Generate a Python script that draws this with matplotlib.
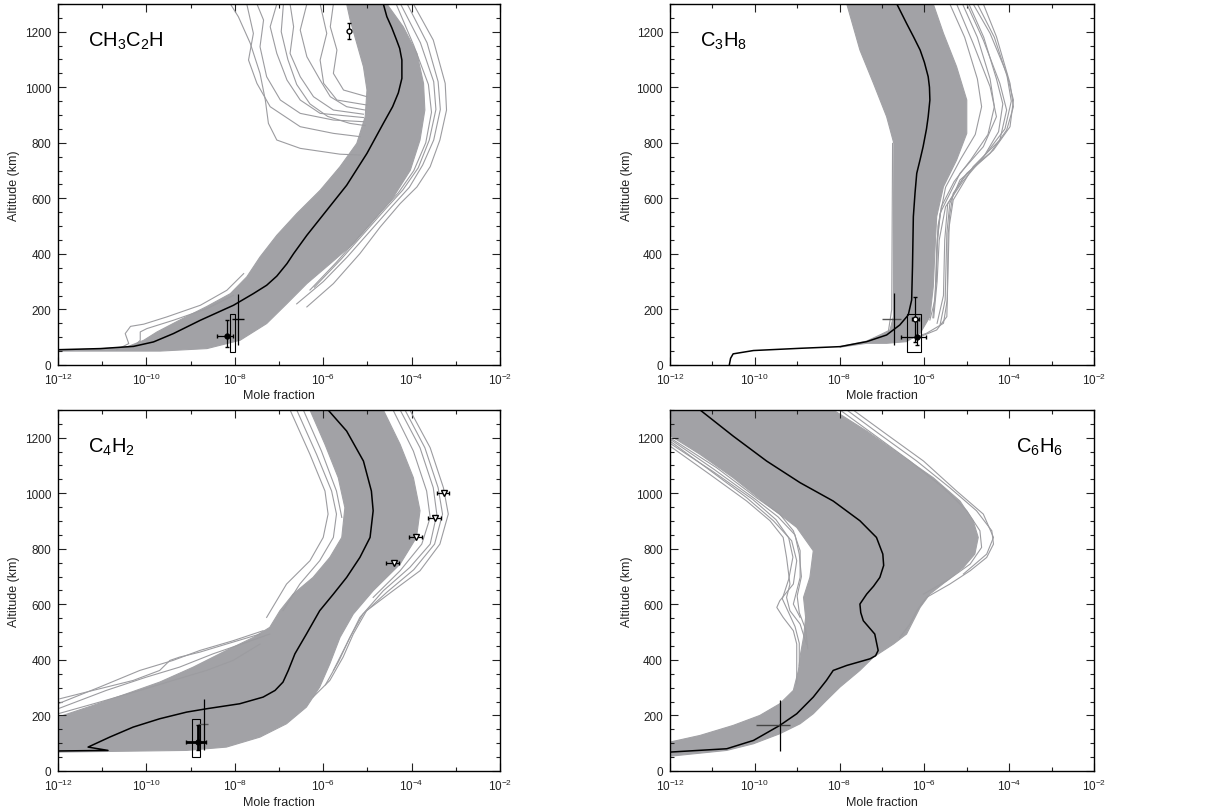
import numpy as np
import matplotlib
matplotlib.use("Agg")
import matplotlib.pyplot as plt
from matplotlib import ticker
from matplotlib.patches import Rectangle

plt.rcParams['font.family'] = ['Liberation Sans', 'DejaVu Sans']
plt.rcParams['mathtext.fontset'] = 'custom'
plt.rcParams['mathtext.rm'] = 'Liberation Sans'
plt.rcParams['mathtext.it'] = 'Liberation Sans:italic'
plt.rcParams['mathtext.default'] = 'regular'

# values are log10(mole fraction) and altitude (km)

# ---- CH3C2H ----
ch3c2h_med_lx = [-12.00, -11.04, -10.29, -9.84, -9.39, -8.78, -8.03, -7.58, -7.28, -7.05, -6.82,
                 -6.67, -6.37, -5.92, -5.47, -5.01, -4.64, -4.43, -4.30, -4.22, -4.22, -4.27,
                 -4.34, -4.45, -4.56, -4.64]
ch3c2h_med_alt = [55, 59, 67, 83, 113, 161, 215, 257, 287, 320, 365,
                  401, 467, 557, 647, 762, 870, 930, 980, 1032, 1098, 1140,
                  1170, 1215, 1254, 1300]
ch3c2h_band_lx = [-12.00, -11.04, -10.44, -10.06, -9.76, -9.23, -8.63, -8.10, -7.73, -7.43, -7.05,
                  -6.60, -6.07, -5.62, -5.24, -5.05, -5.01, -5.09, -5.24, -5.39, -5.47,
                  -4.56, -4.19, -3.88, -3.73, -3.70, -3.81, -4.03, -4.41, -4.86, -5.32, -5.84,
                  -6.37, -6.82, -7.28, -7.88, -8.63, -9.69, -12.00]
ch3c2h_band_alt = [53, 58, 65, 89, 119, 163, 211, 257, 317, 389, 467,
                   545, 629, 714, 798, 894, 990, 1074, 1158, 1242, 1300,
                   1300, 1218, 1122, 1014, 918, 810, 701, 605, 521, 437, 365,
                   293, 221, 149, 89, 59, 50, 50]
ch3c2h_lines = [
    ([-3.96, -3.51, -3.24, -3.21, -3.36, -3.58, -3.88, -4.26, -4.71, -5.17, -5.77, -6.37],
     [1300, 1170, 1014, 918, 810, 714, 641, 581, 497, 401, 293, 209]),
    ([-4.10, -3.65, -3.40, -3.35, -3.50, -3.75, -4.05, -4.45, -4.95, -5.45, -6.00, -6.60],
     [1300, 1160, 1020, 920, 810, 720, 640, 570, 480, 390, 300, 220]),
    ([-4.25, -3.80, -3.50, -3.45, -3.60, -3.85, -4.20, -4.60, -5.10, -5.60, -6.20],
     [1300, 1160, 1020, 920, 810, 710, 630, 560, 470, 380, 280]),
    ([-4.35, -3.95, -3.62, -3.55, -3.68, -3.95, -4.30, -4.70, -5.20, -5.70, -6.30],
     [1300, 1150, 1010, 910, 800, 700, 620, 550, 460, 370, 270]),
    ([-8.10, -7.92, -7.65, -7.43, -7.31, -7.24, -7.05, -6.52, -5.62, -5.16],
     [1300, 1254, 1158, 1050, 954, 870, 810, 780, 759, 756]),
    ([-7.50, -7.35, -7.43, -7.28, -6.97, -6.52, -5.77, -5.09],
     [1300, 1242, 1146, 1038, 954, 906, 882, 876]),
    ([-7.05, -7.20, -7.05, -6.82, -6.52, -6.07, -5.09],
     [1300, 1218, 1122, 1026, 954, 906, 891]),
    ([-6.75, -6.67, -6.75, -6.52, -6.22, -5.77, -5.09],
     [1300, 1218, 1122, 1038, 966, 918, 903]),
    ([-6.37, -6.52, -6.37, -6.07, -5.84, -5.47, -5.05],
     [1300, 1206, 1110, 1026, 966, 930, 918]),
    ([-6.07, -5.92, -6.07, -5.99, -5.69, -5.01],
     [1300, 1194, 1098, 1014, 954, 936]),
    ([-5.77, -5.84, -5.69, -5.77, -5.54, -5.01],
     [1300, 1218, 1134, 1050, 990, 966]),
    ([-7.73, -7.58, -7.69, -7.50, -7.20, -6.52, -5.77, -5.16],
     [1300, 1194, 1098, 1014, 930, 858, 834, 822]),
    ([-6.90, -6.95, -6.80, -6.60, -6.30, -5.90, -5.40, -5.05],
     [1300, 1200, 1100, 1010, 940, 895, 870, 862]),
    ([-10.67, -10.40, -10.48, -10.36, -10.06, -9.54, -8.78, -8.18, -7.80],
     [55, 77, 113, 139, 147, 173, 215, 269, 329]),
    ([-10.29, -10.14, -10.14, -9.99, -9.39, -8.63, -8.03],
     [65, 89, 119, 131, 161, 203, 251]),
]

# ---- C3H8 ----
c3h8_med_lx = [-10.60, -10.57, -10.51, -10.03, -8.93, -7.99, -7.36, -6.89, -6.58, -6.38, -6.30,
               -6.28, -6.26, -6.22, -6.18, -6.10, -6.03, -5.95, -5.91, -5.87, -5.88, -5.91,
               -6.00, -6.10, -6.25, -6.42, -6.65]
c3h8_med_alt = [0, 24, 40, 52, 60, 66, 84, 108, 144, 180, 234,
                354, 534, 620, 690, 740, 786, 850, 894, 954, 1000, 1038,
                1090, 1134, 1180, 1230, 1300]
c3h8_band_lx = [-7.99, -7.36, -7.05, -6.81, -6.73, -6.73, -6.73, -6.72, -6.89, -7.20, -7.52, -7.83,
                -5.79, -5.55, -5.24, -5.00, -5.00, -5.24, -5.55, -5.71, -5.75, -5.79, -5.87,
                -6.10, -6.42, -6.89, -7.36, -7.99]
c3h8_band_alt = [66, 86, 108, 126, 174, 234, 474, 798, 894, 1014, 1134, 1300,
                 1300, 1194, 1074, 954, 834, 738, 642, 534, 414, 282, 174,
                 114, 84, 78, 78, 64]
c3h8_lines = [
    ([-4.85, -4.45, -4.06, -3.90, -3.98, -4.37, -5.00, -5.32, -5.41, -5.44, -5.47, -5.71, -6.10, -6.58],
     [1300, 1194, 1050, 954, 858, 774, 690, 618, 534, 354, 174, 126, 102, 90]),
    ([-5.00, -4.61, -4.22, -4.06, -4.22, -4.85, -5.32, -5.44, -5.46, -5.55, -5.95, -6.42],
     [1300, 1170, 1014, 918, 810, 714, 594, 474, 234, 150, 114, 90]),
    ([-5.24, -4.85, -4.45, -4.30, -4.61, -5.16, -5.63, -5.71, -5.75, -5.87],
     [1300, 1158, 1002, 894, 786, 690, 546, 414, 234, 162]),
    ([-4.61, -4.30, -3.98, -3.90, -4.06, -4.45, -5.16, -5.40, -5.47, -5.51, -5.63],
     [1300, 1182, 1014, 930, 846, 762, 666, 582, 474, 234, 144]),
    ([-5.10, -4.75, -4.45, -4.35, -4.50, -4.90, -5.30, -5.60, -5.70, -5.72, -5.80],
     [1300, 1180, 1030, 930, 830, 740, 660, 570, 450, 300, 170]),
    ([-4.95, -4.60, -4.30, -4.15, -4.25, -4.60, -5.10, -5.50, -5.65, -5.70, -5.78],
     [1300, 1180, 1030, 940, 840, 750, 660, 570, 450, 300, 170]),
    ([-4.75, -4.35, -4.05, -3.95, -4.10, -4.55, -5.10, -5.45, -5.52, -5.55, -5.70],
     [1300, 1180, 1040, 950, 850, 760, 670, 580, 450, 250, 150]),
    ([-5.40, -5.05, -4.75, -4.65, -4.80, -5.15, -5.50, -5.68, -5.72],
     [1300, 1180, 1030, 930, 830, 740, 640, 500, 300]),
    ([-6.75, -6.76, -6.77, -6.85],
     [798, 500, 200, 120]),
]

# ---- C4H2 ----
c4h2_med_lx = [-5.89, -5.47, -5.09, -4.91, -4.87, -4.94, -5.17, -5.47, -5.77, -6.08, -6.38, -6.64,
               -6.79, -6.91, -7.09, -7.36, -7.89, -8.64, -9.09, -9.70, -10.30, -10.83, -11.32,
               -10.87, -12.00]
c4h2_med_alt = [1300, 1224, 1116, 1008, 937, 841, 769, 697, 637, 577, 493, 422,
                362, 320, 290, 266, 242, 224, 212, 188, 158, 122, 86,
                74, 72]
c4h2_band_lx = [-12.00, -12.00, -11.21, -10.45, -9.70, -8.94, -8.19, -7.58, -7.21,
                -6.98, -6.68, -6.23, -5.85, -5.58, -5.51, -5.66, -5.96, -6.30,
                -4.64, -4.26, -3.96, -3.81, -3.89, -4.26, -4.87, -5.32, -5.62, -5.85,
                -6.08, -6.38, -6.83, -7.43, -8.19, -9.09]
c4h2_band_alt = [68, 194, 236, 278, 320, 374, 434, 481, 517,
                 577, 637, 697, 769, 841, 948, 1056, 1176, 1300,
                 1300, 1176, 1056, 937, 841, 745, 649, 565, 481, 386,
                 302, 230, 170, 122, 86, 74]
c4h2_lines = [
    ([-4.04, -3.58, -3.28, -3.17, -3.36, -3.81, -4.42, -5.02, -5.32, -5.55, -5.85, -6.23],
     [1300, 1164, 1020, 925, 817, 721, 649, 577, 493, 410, 326, 266]),
    ([-4.26, -3.81, -3.51, -3.43, -3.58, -4.04, -4.64, -5.17, -5.47, -5.77],
     [1300, 1164, 1020, 925, 817, 733, 649, 553, 457, 362]),
    ([-4.42, -3.96, -3.66, -3.58, -3.77, -4.26, -4.87],
     [1300, 1152, 1008, 913, 817, 721, 625]),
    ([-4.15, -3.70, -3.40, -3.30, -3.48, -3.95, -4.55, -5.10, -5.40, -5.65, -5.95],
     [1300, 1164, 1020, 925, 817, 725, 645, 565, 480, 395, 310]),
    ([-6.75, -6.30, -5.96, -5.89, -6.00, -6.30, -6.83, -7.28],
     [1300, 1140, 1008, 925, 841, 757, 673, 553]),
    ([-6.60, -6.15, -5.81, -5.70, -5.77, -6.08, -6.53, -6.91],
     [1300, 1140, 1008, 925, 841, 757, 673, 577]),
    ([-6.45, -6.04, -5.70, -5.58],
     [1300, 1152, 1008, 913]),
    ([-12.00, -11.06, -10.15, -9.40, -8.79, -8.04, -7.36],
     [242, 302, 362, 398, 434, 469, 505]),
    ([-12.00, -10.91, -10.00, -9.25, -8.49, -7.74, -7.21],
     [224, 290, 338, 374, 422, 463, 493]),
    ([-12.00, -11.06, -10.15, -9.40, -8.64, -8.04, -7.43],
     [206, 248, 290, 326, 362, 398, 457]),
    ([-11.96, -11.21, -10.30, -9.70, -9.47, -9.25, -8.79, -8.19, -7.43],
     [260, 290, 326, 362, 398, 410, 428, 457, 493]),
]
c4h2_tri_lx = [-4.39, -3.90, -3.47, -3.27]
c4h2_tri_lo = [-4.57, -4.05, -3.62, -3.42]
c4h2_tri_hi = [-4.28, -3.77, -3.34, -3.15]
c4h2_tri_alt = [749, 843, 911, 1002]

# ---- C6H6 ----
c6h6_med_lx = [-11.29, -10.51, -9.72, -8.93, -8.15, -7.52, -7.13, -6.98, -6.96, -7.05, -7.20, -7.36,
               -7.52, -7.50, -7.44, -7.17, -7.09, -7.15, -7.28, -7.83, -8.15, -8.31, -8.62, -9.01,
               -9.41, -10.03, -10.66, -12.00]
c6h6_med_alt = [1300, 1206, 1116, 1038, 972, 901, 841, 781, 740, 697, 665, 637,
                601, 570, 541, 493, 434, 415, 404, 380, 362, 326, 266, 206,
                164, 110, 80, 68]
c6h6_band_lx = [-12.00, -8.15, -7.36, -6.58, -5.79, -5.16, -4.85, -4.73, -4.81, -5.08, -5.47,
                -5.87, -6.10, -6.26, -6.42, -6.73, -7.20, -7.52, -7.99, -8.31, -8.62, -8.93,
                -9.41, -10.03, -10.66, -12.00,
                -12.00, -11.29, -10.51, -9.88, -9.41, -9.09, -8.97, -8.92, -8.85, -8.80,
                -8.85, -8.70, -8.62, -9.01, -9.72, -10.51, -11.29, -12.00]
c6h6_band_alt = [1300, 1300, 1224, 1140, 1056, 972, 901, 841, 781, 733, 685,
                 637, 589, 541, 493, 457, 410, 362, 302, 254, 206, 170,
                 134, 98, 74, 53,
                 104, 128, 164, 200, 242, 290, 362, 422, 481, 553,
                 625, 697, 793, 877, 960, 1056, 1140, 1208]
c6h6_lines = [
    ([-7.83, -7.05, -6.18, -5.40, -4.77, -4.41, -4.37, -4.53, -4.92, -5.40, -5.95, -6.18, -6.34, -6.58],
     [1300, 1212, 1116, 1020, 937, 865, 817, 769, 721, 673, 625, 577, 529, 481]),
    ([-7.99, -7.20, -6.34, -5.55, -5.00, -4.69, -4.65, -4.92, -5.47, -6.02],
     [1300, 1212, 1116, 1020, 937, 865, 805, 745, 685, 637]),
    ([-7.68, -6.89, -6.02, -5.24, -4.61, -4.37, -4.53, -5.08],
     [1300, 1212, 1116, 1008, 925, 841, 781, 709]),
    ([-12.00, -11.14, -10.19, -9.56, -9.13, -9.01, -9.09, -9.41, -9.48, -9.33, -9.09, -9.01, -9.01, -9.01],
     [1188, 1092, 984, 901, 829, 757, 673, 613, 589, 553, 505, 457, 386, 314]),
    ([-12.00, -11.06, -10.19, -9.64, -9.33, -9.25, -9.17, -9.25, -9.17, -8.93, -8.78],
     [1170, 1068, 972, 901, 841, 769, 673, 625, 577, 529, 457]),
    ([-12.00, -10.90, -9.96, -9.41, -9.09, -8.93, -8.93, -9.01, -9.09, -8.93],
     [1200, 1092, 984, 925, 865, 793, 697, 649, 601, 553]),
    ([-12.00, -11.00, -10.05, -9.50, -9.20, -9.10, -9.20, -9.35, -9.20, -9.05, -8.95, -8.95],
     [1180, 1080, 978, 905, 840, 770, 690, 620, 570, 520, 460, 380]),
    ([-12.00, -10.95, -10.00, -9.45, -9.05, -8.95, -8.90, -9.00, -8.95, -8.80, -8.75],
     [1195, 1085, 980, 915, 850, 780, 700, 630, 570, 510, 440]),
]

GRAY = '#a2a2a6'
LGRAY = '#9c9ca0'


def setup(ax, label, lab_x, ha, xlab_y):
    ax.set_xscale('log')
    ax.set_xlim(1e-12, 1e-2)
    ax.set_ylim(0, 1300)
    ax.set_xticks([1e-12, 1e-10, 1e-8, 1e-6, 1e-4, 1e-2])
    ax.set_xticks([1e-11, 1e-9, 1e-7, 1e-5, 1e-3], minor=True)
    ax.xaxis.set_major_formatter(ticker.LogFormatterMathtext())
    ax.xaxis.set_minor_formatter(ticker.NullFormatter())
    ax.yaxis.set_major_locator(ticker.MultipleLocator(200))
    ax.yaxis.set_minor_locator(ticker.MultipleLocator(50))
    ax.tick_params(which='both', direction='in', top=True, right=True, width=0.8,
                   labelsize=8.5, colors='#222222')
    ax.tick_params(which='major', length=6, pad=5)
    ax.tick_params(which='minor', length=3)
    ax.set_xlabel('Mole fraction', fontsize=9, color='#222222')
    ax.set_ylabel('Altitude (km)', fontsize=9, color='#222222')
    ax.xaxis.set_label_coords(0.5, xlab_y)
    ax.yaxis.set_label_coords(-0.086, 0.5)
    for s in ax.spines.values():
        s.set_linewidth(1.0)
    ax.text(lab_x, 0.9, label, transform=ax.transAxes, fontsize=14.5, ha=ha, va='center')


def draw_model(ax, band_lx, band_alt, lines, med_lx, med_alt):
    ax.fill(10 ** np.array(band_lx), band_alt, color=GRAY, lw=0.8, ec=GRAY, zorder=1)
    for lx, alt in lines:
        ax.plot(10 ** np.array(lx), alt, color=LGRAY, lw=0.8, zorder=2)
    ax.plot(10 ** np.array(med_lx), med_alt, color='black', lw=1.1, zorder=4)


def box(ax, lo, hi, a0, a1):
    ax.add_patch(Rectangle((10 ** lo, a0), 10 ** hi - 10 ** lo, a1 - a0, fill=False,
                           ec='black', lw=0.8, zorder=5))


def cross(ax, x, alt, xlo, xhi, a0, a1, hcol='black'):
    ax.hlines(alt, 10 ** xlo, 10 ** xhi, color=hcol, lw=1.0, zorder=5)
    ax.vlines(10 ** x, a0, a1, color='black', lw=0.9, zorder=5)


def point(ax, x, alt, xlo, xhi, a0, a1, filled=True, lw=0.9):
    ax.errorbar([10 ** x], [alt], xerr=[[10 ** x - 10 ** xlo], [10 ** xhi - 10 ** x]],
                yerr=[[alt - a0], [a1 - alt]], fmt='o', ms=3.5, mfc='black' if filled else 'white',
                mec='black', ecolor='black', elinewidth=lw, capsize=1.5, zorder=6)


fig = plt.figure(figsize=(12.27, 8.12), dpi=100)
ax1 = fig.add_axes([0.0473, 0.5493, 0.3602, 0.4446])
ax2 = fig.add_axes([0.5460, 0.5493, 0.3456, 0.4446])
ax3 = fig.add_axes([0.0473, 0.0493, 0.3602, 0.4446])
ax4 = fig.add_axes([0.5460, 0.0493, 0.3456, 0.4446])

# CH3C2H
draw_model(ax1, ch3c2h_band_lx, ch3c2h_band_alt, ch3c2h_lines, ch3c2h_med_lx, ch3c2h_med_alt)
box(ax1, -8.12, -8.00, 47, 185)
cross(ax1, -7.93, 165, -8.07, -7.80, 71, 257)
point(ax1, -8.18, 103, -8.41, -8.05, 65, 161)
ax1.errorbar([10 ** -5.41], [1202], yerr=[[30], [28]], fmt='o', ms=3.5, mfc='white', mec='black',
             ecolor='black', elinewidth=0.9, capsize=1.5, zorder=6)
setup(ax1, 'CH$_3$C$_2$H', 0.068, 'left', -0.066)

# C3H8
draw_model(ax2, c3h8_band_lx, c3h8_band_alt, c3h8_lines, c3h8_med_lx, c3h8_med_alt)
cross(ax2, -6.72, 164, -7.01, -6.54, 72, 258, hcol='#555555')
box(ax2, -6.42, -6.09, 46, 184)
point(ax2, -6.22, 166, -6.30, -6.12, 84, 246, filled=False)
point(ax2, -6.17, 102, -6.54, -5.95, 72, 162)
setup(ax2, 'C$_3$H$_8$', 0.071, 'left', -0.066)

# C4H2
draw_model(ax3, c4h2_band_lx, c4h2_band_alt, c4h2_lines, c4h2_med_lx, c4h2_med_alt)
box(ax3, -8.96, -8.79, 50, 188)
point(ax3, -8.83, 104, -9.11, -8.66, 74, 164, lw=2.0)
cross(ax3, -8.70, 168, -8.83, -8.60, 74, 260, hcol='#555555')
for x, lo, hi, a in zip(c4h2_tri_lx, c4h2_tri_lo, c4h2_tri_hi, c4h2_tri_alt):
    ax3.errorbar([10 ** x], [a], xerr=[[10 ** x - 10 ** lo], [10 ** hi - 10 ** x]], fmt='v',
                 ms=5, mfc='white', mec='black', ecolor='black', elinewidth=0.9, capsize=1.5, zorder=6)
setup(ax3, 'C$_4$H$_2$', 0.068, 'left', -0.069)

# C6H6
draw_model(ax4, c6h6_band_lx, c6h6_band_alt, c6h6_lines, c6h6_med_lx, c6h6_med_alt)
cross(ax4, -9.41, 164, -9.98, -9.17, 72, 257, hcol='#444444')
setup(ax4, 'C$_6$H$_6$', 0.927, 'right', -0.069)

fig.savefig('out.png', dpi=100)
